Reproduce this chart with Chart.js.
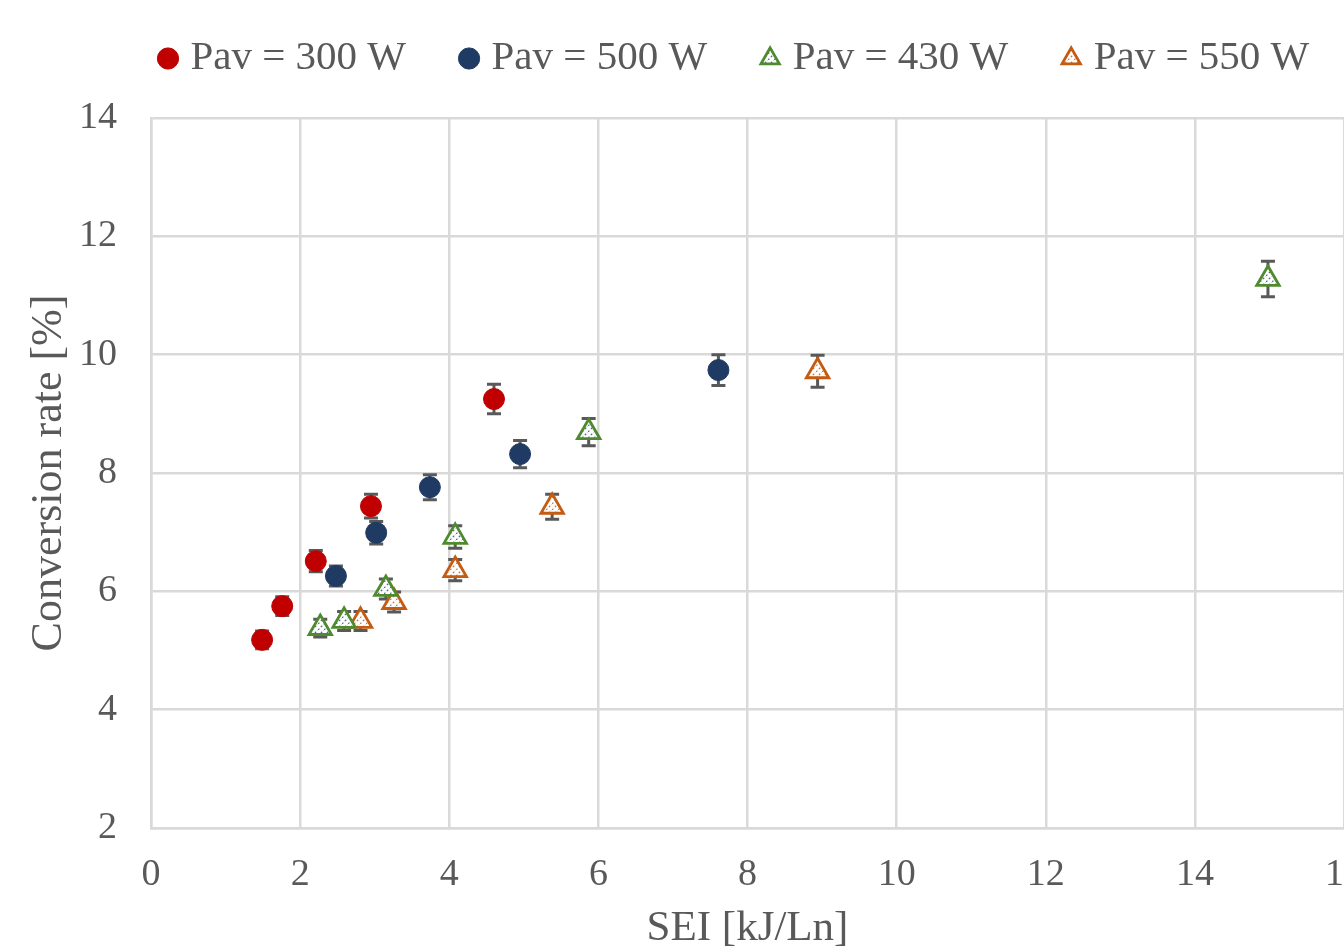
<!DOCTYPE html>
<html>
<head>
<meta charset="utf-8">
<script src="https://cdn.jsdelivr.net/npm/chart.js@4.4.1/dist/chart.umd.min.js"></script>
<style>
  html, body { margin: 0; padding: 0; background: #fff; overflow: hidden; }
</style>
</head>
<body>
<canvas id="chart" width="1344" height="946"></canvas>
<script>
// SEI [kJ/Ln] / conversion rate [%] / error (+-)
const sei300 = [1.49, 1.76, 2.21, 2.95, 4.60];
const conv300 = [5.18, 5.75, 6.51, 7.44, 9.25];
const err300 = [0.15, 0.16, 0.18, 0.20, 0.25];

const sei500 = [2.48, 3.02, 3.74, 4.95, 7.61];
const conv500 = [6.26, 6.99, 7.76, 8.32, 9.74];
const err500 = [0.17, 0.19, 0.21, 0.23, 0.26];

const sei430 = [2.27, 2.59, 3.15, 4.08, 5.87, 14.98];
const conv430 = [5.38, 5.50, 6.04, 6.92, 8.69, 11.28];
const err430 = [0.15, 0.16, 0.17, 0.19, 0.23, 0.30];

const sei550 = [2.81, 3.26, 4.08, 5.38, 8.94];
const conv550 = [5.50, 5.82, 6.36, 7.43, 9.72];
const err550 = [0.16, 0.17, 0.18, 0.21, 0.27];

const seriesLabels = ["Pav = 300 W", "Pav = 500 W", "Pav = 430 W", "Pav = 550 W"];

const textColor = '#595959';
const gridColor = '#d9d9d9';
const serif = "'Liberation Serif', 'Times New Roman', serif";

function pts(xs, ys, es) {
    return xs.map((x, i) => ({ x: x, y: ys[i], err: es[i] }));
}

// hatched fill for the triangles
function hatch(lineColor) {
    const c = document.createElement('canvas');
    c.width = 6; c.height = 6;
    const g = c.getContext('2d');
    g.fillStyle = '#ffffff';
    g.fillRect(0, 0, 6, 6);
    g.strokeStyle = lineColor;
    g.lineWidth = 1.2;
    g.setLineDash([2, 2]);
    g.beginPath();
    g.moveTo(0, 6); g.lineTo(6, 0);
    g.stroke();
    return g.createPattern(c, 'repeat');
}

const errorBars = {
    id: 'errorBars',
    beforeDatasetsDraw(chart) {
        const ctx = chart.ctx;
        const xs = chart.scales.x, ys = chart.scales.y;
        ctx.save();
        ctx.strokeStyle = textColor;
        ctx.lineWidth = 3;
        chart.data.datasets.forEach(ds => {
            ds.data.forEach(p => {
                const px = xs.getPixelForValue(p.x);
                const top = ys.getPixelForValue(p.y + p.err);
                const bot = ys.getPixelForValue(p.y - p.err);
                ctx.beginPath();
                ctx.moveTo(px, top); ctx.lineTo(px, bot);
                ctx.moveTo(px - 7, top); ctx.lineTo(px + 7, top);
                ctx.moveTo(px - 7, bot); ctx.lineTo(px + 7, bot);
                ctx.stroke();
            });
        });
        ctx.restore();
    }
};

// move the legend sideways (the original is cropped on the right)
const legendShift = {
    id: 'legendShift',
    afterLayout(chart) {
        chart.legend.left += 105;
        chart.legend.right += 105;
        chart.legend.top -= 29;
        chart.legend.bottom -= 29;
    }
};

new Chart(document.getElementById('chart'), {
    type: 'scatter',
    data: {
        datasets: [
            {
                label: seriesLabels[0],
                data: pts(sei300, conv300, err300),
                backgroundColor: '#c00000',
                borderColor: '#c00000',
                pointStyle: 'circle',
                pointRadius: 10.5,
                borderWidth: 1
            },
            {
                label: seriesLabels[1],
                data: pts(sei500, conv500, err500),
                backgroundColor: '#1f3b63',
                borderColor: '#1f3b63',
                pointStyle: 'circle',
                pointRadius: 10.5,
                borderWidth: 1
            },
            {
                label: seriesLabels[2],
                data: pts(sei430, conv430, err430),
                backgroundColor: hatch('#4d6b93'),
                borderColor: '#4f8a2f',
                pointStyle: 'triangle',
                pointRadius: 13,
                borderWidth: 2.8
            },
            {
                label: seriesLabels[3],
                data: pts(sei550, conv550, err550),
                backgroundColor: hatch('#c07a4a'),
                borderColor: '#c55a11',
                pointStyle: 'triangle',
                pointRadius: 13,
                borderWidth: 2.8
            }
        ]
    },
    options: {
        responsive: false,
        animation: false,
        layout: { autoPadding: false, padding: { top: 6, right: 0, left: 0, bottom: 0 } },
        plugins: {
            legend: {
                display: true,
                position: 'top',
                align: 'start',
                labels: {
                    usePointStyle: true,
                    boxWidth: 4,
                    boxHeight: 15,
                    padding: 61,
                    color: textColor,
                    font: { family: serif, size: 41 }
                }
            },
            tooltip: { enabled: false }
        },
        scales: {
            x: {
                type: 'linear',
                min: 0,
                max: 16,
                afterFit(scale) { scale.height = 118; scale.paddingRight = 0; },
                ticks: {
                    stepSize: 2,
                    padding: 24,
                    color: textColor,
                    font: { family: serif, size: 38 }
                },
                grid: { color: gridColor, lineWidth: 2.5, drawTicks: false },
                border: { color: gridColor, width: 2.5 },
                title: {
                    display: true,
                    text: 'SEI [kJ/Ln]',
                    color: textColor,
                    padding: { top: 0, bottom: -4 },
                    font: { family: serif, size: 43, lineHeight: 1 }
                }
            },
            y: {
                min: 2,
                max: 14,
                afterFit(scale) { scale.width = 151; },
                ticks: {
                    stepSize: 2,
                    padding: 34,
                    color: textColor,
                    font: { family: serif, size: 38 }
                },
                grid: { color: gridColor, lineWidth: 2.5, drawTicks: false },
                border: { color: gridColor, width: 2.5 },
                title: {
                    display: true,
                    text: 'Conversion rate [%]',
                    color: textColor,
                    padding: { top: 27, bottom: 0 },
                    font: { family: serif, size: 44, lineHeight: 1 }
                }
            }
        }
    },
    plugins: [errorBars, legendShift]
});
</script>
</body>
</html>
